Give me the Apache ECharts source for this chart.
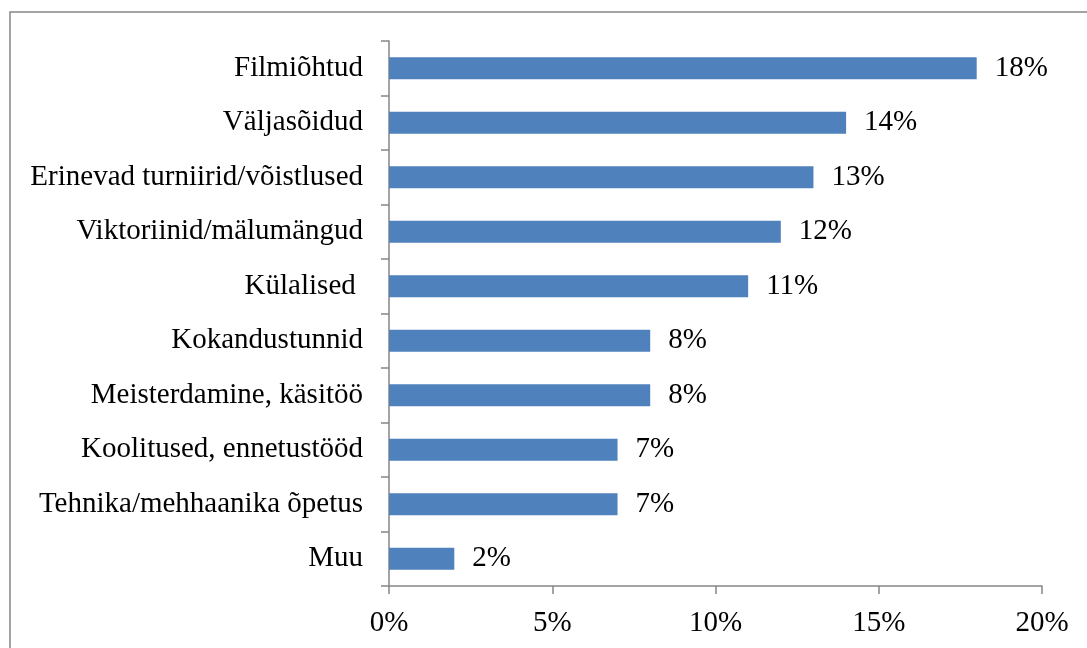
<!DOCTYPE html>
<html>
<head>
<meta charset="utf-8">
<script src="https://cdn.jsdelivr.net/npm/echarts@6/dist/echarts.min.js"></script>
<style>
html,body{margin:0;padding:0;background:#fff;}
#c{width:1087px;height:648px;}
</style>
</head>
<body>
<div id="c"></div>
<script>
const categories = ["Filmiõhtud","Väljasõidud","Erinevad turniirid/võistlused","Viktoriinid/mälumängud","Külalised ","Kokandustunnid","Meisterdamine, käsitöö","Koolitused, ennetustööd","Tehnika/mehhaanika õpetus","Muu"];
const values = [18,14,13,12,11,8,8,7,7,2];
const xTicks = {min:0,max:20,interval:5};

const FONT = '"Liberation Serif", "Times New Roman", serif';
const chart = echarts.init(document.getElementById('c'), null, {renderer:'canvas'});
chart.setOption({
  animation:false,
  backgroundColor:'#fff',
  graphic:[{type:'rect',shape:{x:10,y:12,width:1100,height:700},style:{fill:'none',stroke:'#868686',lineWidth:1.5},silent:true}],
  grid:{left:389,right:45,top:41,bottom:62,containLabel:false},
  xAxis:{type:'value',min:xTicks.min,max:xTicks.max,interval:xTicks.interval,
    axisLine:{show:true,lineStyle:{color:'#868686',width:1.5}},
    axisTick:{show:true,length:8,lineStyle:{color:'#868686',width:1.5}},
    splitLine:{show:false},
    axisLabel:{formatter:'{value}%',color:'#000',fontFamily:FONT,fontSize:29,margin:23}},
  yAxis:{type:'category',data:categories,inverse:true,
    axisLine:{show:true,lineStyle:{color:'#868686',width:1.5}},
    axisTick:{show:true,length:8,lineStyle:{color:'#868686',width:1.5}},
    axisLabel:{color:'#000',fontFamily:FONT,fontSize:29,margin:26}},
  series:[{type:'bar',data:values,barWidth:22,
    itemStyle:{color:'#4F81BD'},
    label:{show:true,position:'right',distance:18,formatter:'{c}%',color:'#000',fontFamily:FONT,fontSize:29}}]
});
</script>
</body>
</html>
